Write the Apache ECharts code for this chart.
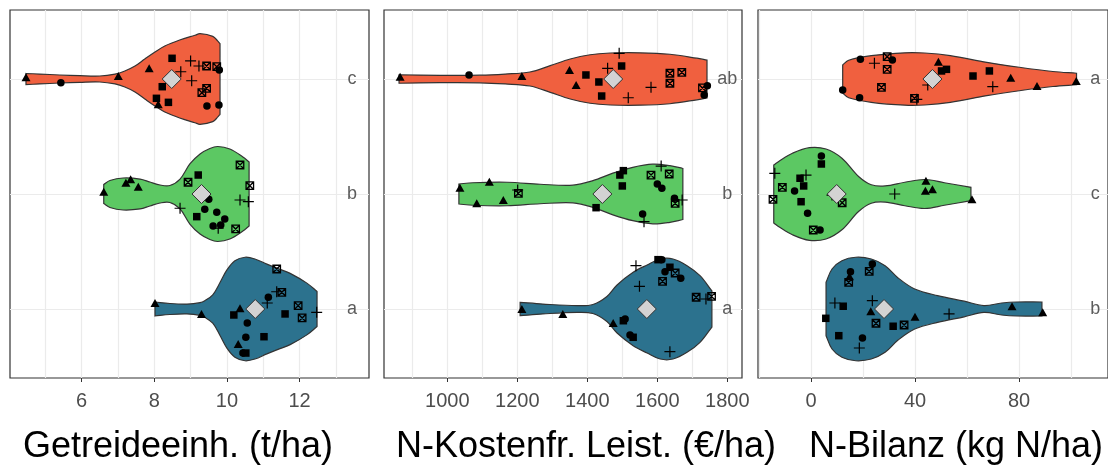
<!DOCTYPE html>
<html><head><meta charset="utf-8">
<script src="https://cdn.jsdelivr.net/npm/echarts@6/dist/echarts.min.js"></script>
<style>html,body{margin:0;padding:0;background:#fff}#c{width:1108px;height:468px}</style>
</head><body><div id="c"></div>
<script>
// ---------- DATA ----------
const rowY = [3, 2, 1];               // rows: red (top), green, blue (bottom)
const rowColors = ['#F0603F', '#5CC863', '#2C728E'];

// Panel 1: Getreideeinheiten (t/ha)
const getreideLetters = ['c', 'b', 'a'];
const getreideMeans = [8.48, 9.30, 10.78];
const getreideViolinRed = [[4.47,0.048],[4.85,0.043],[5.40,0.035],[5.95,0.029],[6.50,0.026],[6.92,0.043],[7.19,0.07],[7.47,0.113],[7.74,0.174],[8.02,0.235],[8.29,0.287],[8.70,0.339],[9.12,0.38],[9.26,0.394],[9.61,0.371],[9.75,0.33],[9.81,0.307]];
const getreideViolinGreen = [[6.61,0.083],[6.78,0.117],[7.14,0.139],[7.61,0.13],[7.88,0.104],[8.16,0.078],[8.43,0.074],[8.71,0.13],[8.98,0.261],[9.26,0.348],[9.53,0.396],[9.75,0.413],[10.08,0.391],[10.44,0.322],[10.61,0.278]];
const getreideViolinBlue = [[8.02,0.061],[8.43,0.048],[8.90,0.043],[9.26,0.055],[9.39,0.072],[9.61,0.123],[9.81,0.23],[10.00,0.34],[10.22,0.42],[10.50,0.45],[10.77,0.435],[11.10,0.39],[11.46,0.345],[11.74,0.31],[12.20,0.225],[12.48,0.152]];
const getreidePointsRed = [[4.47,0.015,'T'],[5.43,-0.032,'C'],[7.01,0.026,'T'],[7.86,0.093,'T'],[8.49,0.18,'S'],[9.00,0.157,'P'],[9.23,0.113,'P'],[9.44,0.113,'X'],[9.72,0.107,'X'],[9.79,0.078,'C'],[8.73,0.063,'P'],[9.03,-0.015,'P'],[8.22,-0.067,'S'],[9.44,-0.081,'X'],[9.31,-0.119,'X'],[8.06,-0.168,'S'],[8.11,-0.22,'T'],[8.39,-0.203,'S'],[9.45,-0.235,'C'],[9.78,-0.226,'C']];
const getreidePointsGreen = [[6.61,0.02,'T'],[7.22,0.098,'T'],[7.35,0.128,'T'],[7.56,0.063,'T'],[9.21,0.165,'S'],[8.93,0.102,'X'],[10.36,0.252,'X'],[10.63,0.072,'X'],[10.36,-0.052,'P'],[10.59,-0.067,'P'],[8.71,-0.124,'P'],[9.50,-0.046,'C'],[9.39,-0.133,'C'],[9.72,-0.159,'C'],[9.17,-0.197,'S'],[9.94,-0.217,'C'],[9.62,-0.278,'C'],[9.83,-0.27,'C'],[9.76,-0.298,'P'],[10.24,-0.304,'X']];
const getreidePointsBlue = [[8.02,0.052,'T'],[9.30,-0.043,'T'],[10.36,0.006,'T'],[10.19,-0.052,'S'],[11.14,0.102,'C'],[11.11,0.052,'P'],[11.37,0.15,'P'],[11.51,0.145,'X'],[11.37,0.348,'X'],[11.60,-0.043,'S'],[11.96,0.029,'X'],[12.07,-0.078,'X'],[12.47,-0.029,'P'],[10.56,-0.122,'C'],[10.52,-0.246,'C'],[11.02,-0.241,'S'],[10.31,-0.304,'T'],[10.52,-0.383,'S'],[10.44,-0.383,'C']];

// Panel 2: N-kostenfreie Leistung (€/ha)
const kostenLetters = ['ab', 'b', 'a'];
const kostenMeans = [1474, 1443, 1570];
const kostenViolinRed = [[862,0.037],[979,0.032],[1093,0.033],[1165,0.043],[1236,0.061],[1294,0.116],[1351,0.174],[1408,0.211],[1465,0.226],[1551,0.228],[1636,0.215],[1713,0.181],[1742,0.165]];
const kostenViolinGreen = [[1033,0.087],[1073,0.098],[1171,0.102],[1265,0.085],[1359,0.077],[1416,0.116],[1473,0.181],[1530,0.232],[1587,0.259],[1636,0.246],[1673,0.222]];
const kostenViolinBlue = [[1208,0.058],[1273,0.043],[1371,0.029],[1416,0.039],[1456,0.109],[1485,0.209],[1531,0.319],[1571,0.383],[1608,0.435],[1645,0.435],[1685,0.377],[1722,0.29],[1756,0.157]];
const kostenPointsRed = [[865,0.02,'T'],[1062,0.035,'C'],[1213,0.026,'T'],[1349,0.078,'T'],[1368,-0.052,'T'],[1396,0.035,'S'],[1433,-0.026,'S'],[1498,0.113,'S'],[1441,-0.148,'S'],[1491,0.223,'P'],[1458,0.093,'P'],[1582,-0.072,'P'],[1517,-0.163,'P'],[1636,0.05,'X'],[1670,0.058,'X'],[1636,-0.037,'X'],[1729,-0.078,'X'],[1743,-0.058,'C'],[1734,-0.139,'C']];
const kostenPointsGreen = [[1036,0.055,'T'],[1120,0.107,'T'],[1084,-0.081,'T'],[1160,-0.052,'T'],[1203,0.006,'X'],[1201,0.035,'P'],[1425,-0.119,'S'],[1493,0.165,'S'],[1503,0.203,'S'],[1500,0.07,'S'],[1611,0.243,'P'],[1582,0.165,'X'],[1634,0.174,'X'],[1600,0.087,'C'],[1613,0.05,'C'],[1649,-0.037,'C'],[1651,-0.081,'X'],[1671,-0.052,'P'],[1558,-0.174,'C'],[1562,-0.241,'P']];
const kostenPointsBlue = [[1213,0,'T'],[1330,-0.043,'T'],[1474,-0.122,'T'],[1508,-0.087,'C'],[1503,-0.102,'S'],[1531,-0.246,'S'],[1522,-0.226,'C'],[1539,0.377,'P'],[1549,0.197,'P'],[1636,-0.371,'P'],[1739,0.087,'P'],[1615,0.241,'X'],[1651,0.313,'X'],[1711,0.102,'X'],[1755,0.11,'X'],[1613,0.429,'C'],[1602,0.429,'S'],[1622,0.324,'C'],[1636,0.363,'S'],[1667,0.267,'C']];

// Panel 3: N-Bilanz (kg N/ha)
const bilanzLetters = ['a', 'c', 'b'];
const bilanzMeans = [46.7, 9.9, 28.1];
const bilanzViolinRed = [[12.2,0.122],[14.5,0.163],[23.2,0.203],[36.1,0.228],[43.7,0.226],[53.6,0.203],[67.6,0.145],[80.1,0.102],[93.0,0.065],[102.1,0.05]];
const bilanzViolinGreen = [[-14.3,0.252],[-12.0,0.29],[-7.1,0.355],[-0.6,0.403],[5.8,0.391],[11.9,0.311],[18.3,0.152],[23.2,0.08],[28.5,0.07],[36.1,0.102],[43.7,0.126],[51.3,0.098],[61.5,0.058]];
const bilanzViolinBlue = [[5.8,0.232],[8.1,0.348],[11.9,0.42],[17.2,0.45],[23.2,0.435],[28.5,0.377],[33.5,0.27],[39.9,0.174],[48.7,0.116],[58.9,0.068],[66.5,0.03],[73.3,0.052],[79.0,0.061],[88.8,0.061]];
const bilanzPointsRed = [[12.2,-0.096,'C'],[18.7,-0.163,'C'],[19.0,0.171,'C'],[24.4,0.137,'P'],[29.3,0.194,'X'],[31.3,0.165,'C'],[29.3,0.084,'X'],[27.1,-0.072,'X'],[39.8,-0.168,'X'],[40.7,-0.177,'P'],[44.9,-0.052,'P'],[49.0,0.15,'T'],[50.2,0.07,'S'],[52.1,0.084,'S'],[62.3,0.026,'S'],[68.6,0.07,'S'],[69.9,-0.067,'P'],[76.8,0.011,'T'],[86.9,-0.061,'T'],[102.0,-0.017,'T']];
const bilanzPointsGreen = [[-13.9,0.18,'P'],[-14.6,-0.046,'X'],[-11.0,0.058,'X'],[-4.2,0.137,'S'],[-1.9,0.165,'P'],[-2.8,0.07,'S'],[-6.3,0.026,'C'],[-3.8,-0.067,'S'],[-1.3,-0.168,'C'],[4.0,0.33,'C'],[4.0,0.261,'S'],[0.9,-0.313,'X'],[3.5,-0.313,'C'],[12.0,-0.076,'X'],[32.2,0,'P'],[44.2,0.116,'T'],[44.0,0.029,'T'],[46.7,0.041,'T'],[61.9,-0.046,'T'],[8.1,-0.009,'P']];
const bilanzPointsBlue = [[5.7,-0.081,'S'],[9.2,0.052,'P'],[12.4,0.024,'S'],[15.2,0.324,'C'],[14.8,0.284,'T'],[14.5,0.232,'X'],[22.4,0.328,'X'],[23.6,0.391,'C'],[23.6,0.072,'P'],[23.0,-0.02,'T'],[25.0,-0.124,'X'],[10.7,-0.232,'S'],[19.8,-0.252,'C'],[18.6,-0.339,'P'],[31.6,-0.15,'S'],[35.8,-0.139,'X'],[40.0,-0.067,'T'],[53.1,-0.043,'P'],[77.3,0.023,'T'],[89.1,-0.029,'T']];

// ---------- LAYOUT ----------
const FONT = '"Liberation Sans", Arial, sans-serif';
const panels = [
  { left: 10, width: 359, min: 4.03, max: 13.91, major: 2, minor: 1, letterX: 13.44, titleX: 178,
    title: 'Getreideeinh. (t/ha)', letters: getreideLetters, means: getreideMeans,
    violins: [getreideViolinRed, getreideViolinGreen, getreideViolinBlue],
    points: [getreidePointsRed, getreidePointsGreen, getreidePointsBlue] },
  { left: 384, width: 358, min: 819, max: 1842, major: 200, minor: 100, letterX: 1800, titleX: 586,
    title: 'N-Kostenfr. Leist. (€/ha)', letters: kostenLetters, means: kostenMeans,
    violins: [kostenViolinRed, kostenViolinGreen, kostenViolinBlue],
    points: [kostenPointsRed, kostenPointsGreen, kostenPointsBlue] },
  { left: 758, width: 355, min: -20.36, max: 114.2, major: 40, minor: 20, letterX: 109.3, titleX: 956,
    title: 'N-Bilanz (kg N/ha)', letters: bilanzLetters, means: bilanzMeans,
    violins: [bilanzViolinRed, bilanzViolinGreen, bilanzViolinBlue],
    points: [bilanzPointsRed, bilanzPointsGreen, bilanzPointsBlue] }
];

const SHAPES = {
  T: { symbol: 'triangle', size: [9, 8], style: { color: '#000', opacity: 1 } },
  C: { symbol: 'circle', size: 7.5, style: { color: '#000', opacity: 1 } },
  S: { symbol: 'rect', size: 7.5, style: { color: '#000', opacity: 1 } },
  X: { symbol: 'path://M0,0L10,0L10,10L0,10Z M0,0L10,10 M10,0L0,10', size: 7.5, style: { color: 'transparent', borderColor: '#000', borderWidth: 1.3, opacity: 1 } },
  P: { symbol: 'path://M0,5L10,5 M5,0L5,10', size: 11, style: { color: 'transparent', borderColor: '#000', borderWidth: 1.2, opacity: 1 } }
};

const grid = [], xAxis = [], yAxis = [], series = [], graphic = [];
const TOP = 10, HEIGHT = 368;

panels.forEach((p, g) => {
  grid.push({ left: p.left, top: TOP, width: p.width, height: HEIGHT, show: true,
    borderColor: '#333', borderWidth: 1.2, backgroundColor: 'transparent' });
  // main axis: ticks + labels
  xAxis.push({ type: 'value', gridIndex: g, min: p.min, max: p.max, minInterval: p.major, maxInterval: p.major,
    axisLine: { show: false }, splitLine: { show: false },
    axisTick: { show: true, length: 4, lineStyle: { color: '#333', width: 1 } },
    axisLabel: { show: true, margin: 13, color: '#4D4D4D', fontSize: 20, fontFamily: FONT,
      showMinLabel: false, showMaxLabel: false, formatter: v => String(v) } });
  // grid-line axis
  xAxis.push({ type: 'value', gridIndex: g, min: p.min, max: p.max, minInterval: p.minor, maxInterval: p.minor,
    axisLine: { show: false }, axisTick: { show: false }, axisLabel: { show: false },
    splitLine: { show: true, showMinLine: false, showMaxLine: false, lineStyle: { color: '#EBEBEB', width: 1.2 } } });
  yAxis.push({ type: 'value', gridIndex: g, min: 0.4, max: 3.6, minInterval: 1, maxInterval: 1,
    axisLine: { show: false }, axisTick: { show: false }, axisLabel: { show: false },
    splitLine: { show: true, showMinLine: false, showMaxLine: false, lineStyle: { color: '#EBEBEB', width: 1.2 } } });

  // violins
  series.push({
    type: 'custom', xAxisIndex: 2 * g, yAxisIndex: g, z: 2, silent: true,
    data: p.violins.map((v, i) => [v[0][0], rowY[i]]),
    renderItem(params, api) {
      const i = params.dataIndex, prof = p.violins[i], yc = rowY[i];
      const top = prof.map(d => api.coord([d[0], yc + d[1]]));
      const bot = prof.slice().reverse().map(d => api.coord([d[0], yc - d[1]]));
      const pts = [top[0]].concat(top, [top[top.length - 1], bot[0]], bot, [bot[bot.length - 1]]);
      return { type: 'polygon', shape: { points: pts, smooth: 0.35 },
        style: { fill: rowColors[i], stroke: '#333', lineWidth: 1.2 } };
    }
  });

  // points, one series per shape
  Object.keys(SHAPES).forEach(k => {
    const s = SHAPES[k];
    const data = [];
    p.points.forEach((arr, i) => arr.forEach(pt => { if (pt[2] === k) data.push([pt[0], rowY[i] + pt[1]]); }));
    series.push({ type: 'scatter', xAxisIndex: 2 * g, yAxisIndex: g, z: 3, silent: true,
      symbol: s.symbol, symbolSize: s.size, symbolKeepAspect: true, itemStyle: s.style, data });
  });

  // means
  series.push({ type: 'scatter', xAxisIndex: 2 * g, yAxisIndex: g, z: 4, silent: true,
    symbol: 'diamond', symbolSize: 19,
    itemStyle: { color: '#D3D3D3', borderColor: '#333', borderWidth: 1, opacity: 1 },
    data: p.means.map((m, i) => [m, rowY[i]]) });

  // letters
  series.push({ type: 'scatter', xAxisIndex: 2 * g, yAxisIndex: g, z: 4, silent: true,
    symbolSize: 0,
    label: { show: true, position: 'inside', color: '#333', fontSize: 18, fontFamily: FONT,
      formatter: prm => p.letters[prm.dataIndex] },
    data: p.letters.map((l, i) => [p.letterX, rowY[i]]) });

  graphic.push({ type: 'text', x: p.titleX, y: 447.5, silent: true,
    style: { text: p.title, fill: '#000', font: '36px ' + FONT, align: 'center', verticalAlign: 'middle',
      textAlign: 'center', textVerticalAlign: 'middle' } });
});

const chart = echarts.init(document.getElementById('c'), null, { renderer: 'canvas' });
chart.setOption({ animation: false, backgroundColor: '#fff', grid, xAxis, yAxis, series, graphic });
</script></body></html>
